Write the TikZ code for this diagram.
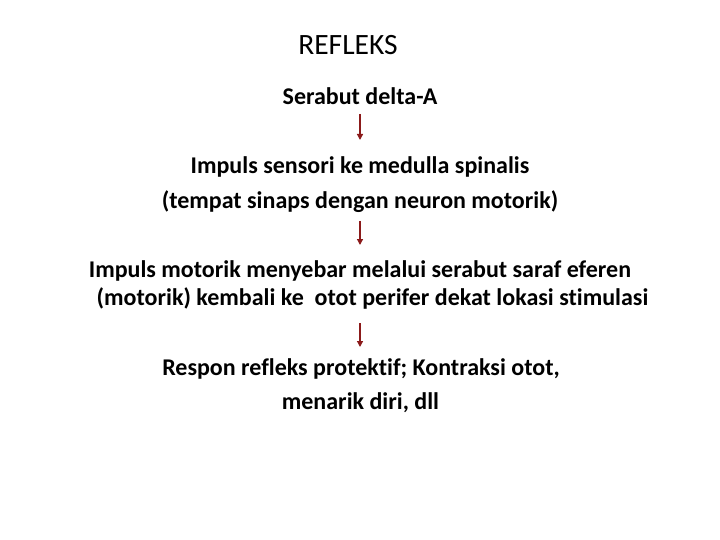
\documentclass[tikz,border=0pt]{standalone}
\usepackage{fontspec}
\setmainfont[Ligatures=NoCommon]{Carlito}
\usetikzlibrary{arrows.meta}
\definecolor{arrred}{HTML}{8B1A1A}
\begin{document}
\begin{tikzpicture}[x=1pt,y=-1pt,
  body/.style={anchor=base,inner sep=0pt,font=\fontsize{24}{28}\selectfont\bfseries},
  ttl/.style={anchor=base,inner sep=0pt,font=\fontsize{29.5}{34}\selectfont},
  arr/.style={draw=arrred,line width=1.3pt,-{Triangle[length=6pt,width=6pt]}}]
\useasboundingbox (0,0) rectangle (720,540);
\node[ttl]  (title) at (348,55) {REFLEKS};
\node[body] (s)  at (360,105) {Serabut delta-A};
\node[body] (i1) at (360,174) {Impuls sensori ke medulla spinalis};
\node[body] (i2) at (360,209) {(tempat sinaps dengan neuron motorik)};
\node[body] (m1) at (360,277) {Impuls motorik menyebar melalui serabut saraf eferen};
\node[body] (m2) at (372.5,305) {(motorik) kembali ke\ \ otot perifer dekat lokasi stimulasi};
\node[body] (r1) at (361,375) {Respon refleks protektif; Kontraksi otot,};
\node[body] (r2) at (360.5,409) {menarik diri, dll};
\coordinate (a1s) at (360,114); \coordinate (a1e) at (360,140);
\coordinate (a2s) at (360,221); \coordinate (a2e) at (360,245);
\coordinate (a3s) at (360,323); \coordinate (a3e) at (360,347);
\draw[arr] (a1s) -- (a1e);
\draw[arr] (a2s) -- (a2e);
\draw[arr] (a3s) -- (a3e);
\end{tikzpicture}
\end{document}
